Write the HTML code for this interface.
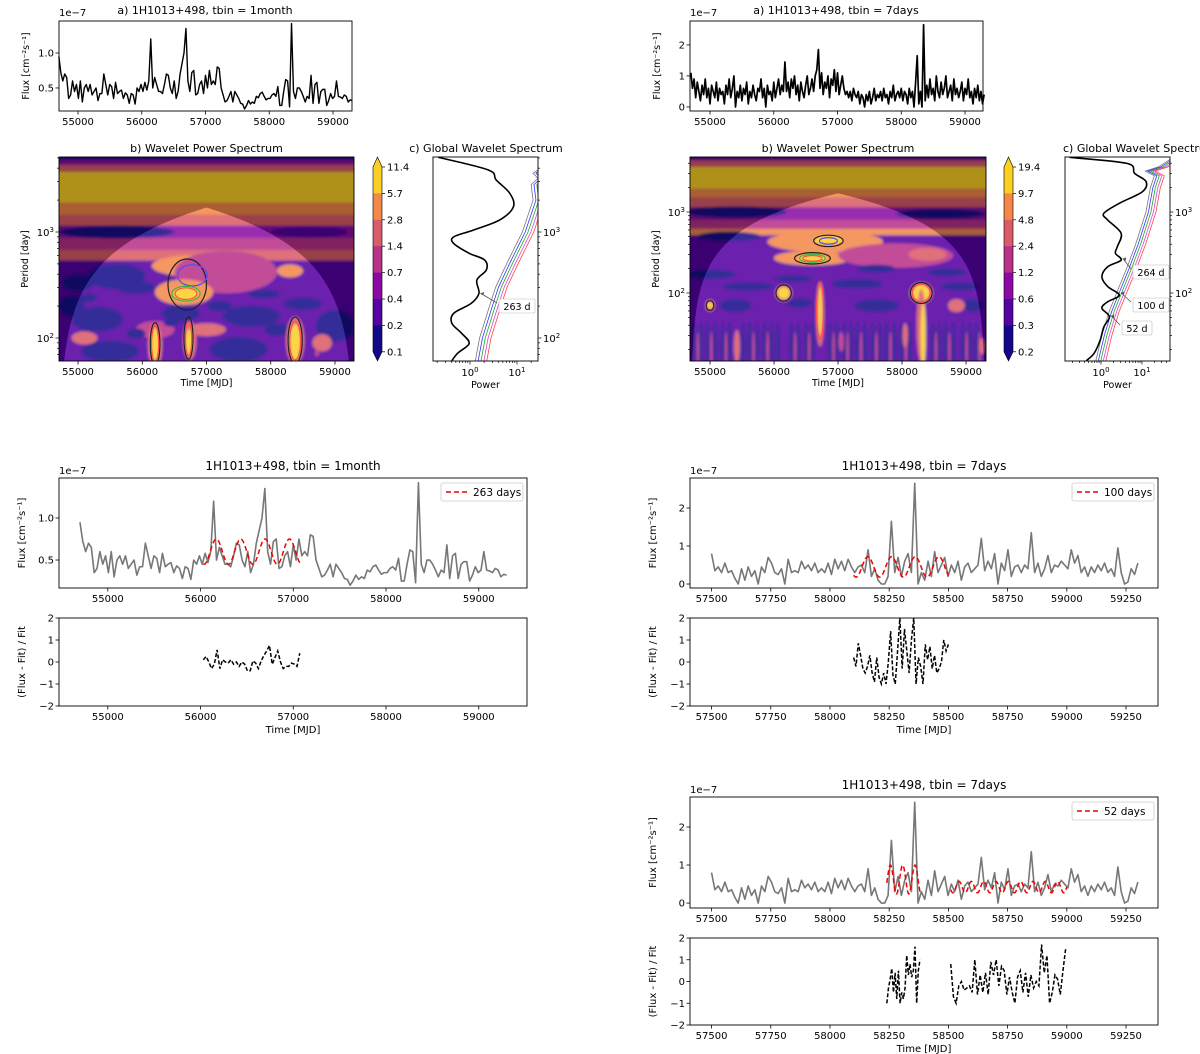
<!DOCTYPE html>
<html><head><meta charset="utf-8">
<style>
html,body{margin:0;padding:0;background:#fff;}
svg{display:block;font-family:"DejaVu Sans","Liberation Sans",sans-serif;}
</style></head>
<body>
<svg id="fig" width="1200" height="1054" viewBox="0 0 1200 1054" xmlns="http://www.w3.org/2000/svg">
<defs>
<filter id="blur" x="-5%" y="-5%" width="110%" height="110%"><feGaussianBlur stdDeviation="1.4"/></filter>
<clipPath id="clipW1"><rect x="59" y="157" width="295" height="204"/></clipPath>
<clipPath id="clipW2"><rect x="690" y="157" width="296" height="204"/></clipPath>
<clipPath id="clipG1"><rect x="433" y="157" width="105" height="204"/></clipPath>
<clipPath id="clipG2"><rect x="1065" y="157" width="105" height="204"/></clipPath>
<clipPath id="clipR2"><rect x="690" y="618" width="468" height="88"/></clipPath>
</defs>
</svg>
<script>
// ---------- DATA ----------
const monthlyRange = [54700, 59300];
const monthlyFlux = [0.95,0.72,0.6,0.7,0.65,0.35,0.4,0.6,0.45,0.55,
0.35,0.6,0.3,0.5,0.55,0.45,0.55,0.4,0.45,0.5,
0.32,0.42,0.42,0.7,0.55,0.4,0.55,0.52,0.35,0.58,
0.42,0.45,0.47,0.35,0.43,0.4,0.28,0.42,0.4,0.27,
0.5,0.45,0.55,0.45,0.58,0.47,0.6,1.2,
0.5,0.65,0.55,0.45,0.45,0.42,0.55,0.7,0.68,0.5,
0.42,0.6,0.35,0.45,0.7,0.85,1.0,1.35,
0.6,0.45,0.72,0.75,0.4,0.42,0.55,0.6,0.42,0.68,
0.5,0.75,0.55,0.6,0.55,0.8,0.78,0.5,0.4,0.3,
0.32,0.38,0.45,0.3,0.45,0.4,0.35,0.28,0.27,0.2,
0.25,0.32,0.27,0.3,0.28,0.38,0.36,0.42,0.44,0.38,
0.33,0.35,0.35,0.4,0.42,0.38,0.52,0.25,0.25,0.45,
0.62,0.6,0.23,1.42,
0.45,0.35,0.5,0.5,0.45,0.38,0.3,0.38,0.35,0.68,
0.28,0.55,0.58,0.28,0.45,0.48,0.48,0.25,0.32,0.42,
0.35,0.38,0.6,0.38,0.37,0.35,0.4,0.38,0.3,0.33,0.32];
const weeklyAllRange = [54700, 59300];
const weeklyAllFlux = [1.1,0.6,0.9,0.3,0.8,0.5,0.2,0.7,0.4,0.9,0.3,0.6,0.1,0.7,0.5,0.3,0.8,0.2,0.6,0.4,
0.5,0.1,0.7,0.4,0.9,0.3,0.6,1.0,0.0,0.5,0.3,0.7,0.2,0.6,0.4,0.8,0.1,0.5,0.3,0.7,
0.4,0.2,0.6,0.5,0.9,0.3,0.6,0.0,0.7,0.4,0.5,0.2,0.8,0.3,0.6,0.9,0.4,0.7,0.5,1.45,
0.5,0.8,0.3,0.9,0.6,1.0,0.4,0.7,0.2,0.8,0.5,0.3,0.7,1.0,0.4,0.6,0.9,0.5,1.0,1.2,1.85,
0.6,1.1,0.4,0.8,0.6,1.0,0.3,0.9,0.7,1.2,0.5,1.1,0.4,0.7,1.0,0.6,0.4,0.5,0.3,
0.5,0.2,0.6,0.4,0.3,0.5,0.1,0.4,0.3,0.0,0.4,0.2,0.5,0.1,0.3,0.6,0.2,0.4,0.3,0.5,
0.2,0.6,0.3,0.4,0.1,0.5,0.3,0.7,0.2,0.4,0.5,0.3,0.6,0.2,0.5,0.4,0.1,0.6,0.3,0.5,0.0,0.8,1.65,
0.1,0.5,0.0,2.65,
0.2,0.7,0.3,0.9,0.4,0.6,0.2,1.0,0.5,0.3,0.8,0.4,0.6,1.0,0.3,0.5,0.7,0.2,0.9,0.4,
0.6,0.3,0.5,0.8,0.2,0.6,0.4,0.9,0.3,0.5,0.1,0.6,0.3,0.7,0.2,0.5,0.1,0.4];
const weeklyRange = [57500, 59300];
const weeklyFlux = [0.8,0.35,0.45,0.3,0.55,0.3,0.35,0.15,0.0,0.4,
0.1,0.45,0.2,0.35,0.0,0.45,0.3,0.7,0.55,0.3,
0.25,0.4,0.0,0.65,0.3,0.35,0.3,0.6,0.4,0.5,
0.35,0.55,0.3,0.4,0.3,0.55,0.25,0.65,0.4,0.6,
0.35,0.65,0.45,0.3,0.45,0.5,0.3,0.9,0.2,0.4,
0.1,0.0,0.0,0.2,1.65,0.3,0.7,0.2,0.6,0.8,0.3,2.65,
0.0,0.3,0.1,0.6,0.2,0.85,0.3,0.5,
0.7,0.2,0.5,0.3,0.6,0.1,0.45,0.55,0.3,0.4,
0.5,1.2,0.35,0.6,0.4,0.8,0.0,0.55,0.35,0.9,
0.2,0.45,0.5,0.3,0.5,0.4,1.35,0.3,0.55,0.2,
0.4,0.75,0.3,0.5,0.45,0.6,0.5,0.4,0.9,0.55,
0.75,0.3,0.45,0.2,0.45,0.3,0.5,0.35,0.55,0.3,
0.4,0.2,0.95,0.3,0.0,0.05,0.4,0.25,0.55];
// fit params: [period, amplitude, mean, peakTime, start, end]
const fit263 = [263, 0.15, 0.60, 56170, 56030, 57080];
const fit100 = [100, 0.27, 0.45, 58160, 58100, 58500];
const fit52a = [52, 0.38, 0.62, 58255, 58240, 58385];
const fit52b = [52, 0.15, 0.42, 58545, 58510, 59000];
const resid263Range = [56030, 57070];
const resid263 = [0.1,0.25,0.0,-0.3,-0.1,0.55,-0.3,0.1,0.0,-0.05,0.1,-0.1,0.0,-0.2,0.0,-0.1,-0.4,-0.4,0.05,-0.05,-0.3,0.05,0.3,0.5,0.75,-0.1,0.2,0.5,0.0,-0.3,-0.2,-0.2,-0.05,-0.1,-0.2,0.4];
const resid100Range = [58100, 58500];
const resid100 = [0.2,-0.2,0.85,0.3,-0.3,-0.5,-0.2,0.3,-0.5,-0.9,0.2,-0.7,-1.0,-0.5,-1.0,0.0,1.4,-0.6,-1.0,0.5,2.0,-0.3,1.5,0.5,-0.5,1.0,2.0,-1.0,0.2,-0.2,-1.0,0.8,0.1,0.7,-0.3,0.3,-0.5,-0.3,0.0,1.0,0.5,0.8];
const resid52aRange = [58240, 58380];
const resid52a = [-1.0,-0.3,0.1,0.6,-0.5,0.4,-0.8,0.5,-1.0,-0.5,-0.8,-0.3,1.2,0.3,0.8,0.2,0.5,1.6,-1.0,0.5,1.0];
const resid52bRange = [58510, 58995];
const resid52b = [0.8,-0.7,-1.0,-0.2,0.0,-0.4,-0.3,-0.2,-0.5,1.0,-0.6,0.3,-0.5,0.4,-0.6,0.9,0.3,1.0,-0.2,0.7,0.5,-0.6,0.2,-0.5,-1.0,0.2,0.5,-0.5,0.4,-0.7,0.3,-0.3,0.0,-0.2,1.7,0.4,1.2,-1.0,-0.5,0.3,0.1,-0.6,0.5,1.5];
// global wavelet spectra: power vs period
const gws1Power = [0.21,2.46,3.6,7.0,8.4,4.3,1.16,0.45,0.45,0.96,2.04,2.24,1.4,1.55,1.06,0.45,0.41,0.66,0.96,0.55,0.41];
const gws1Period = [5070,3846,3100,2320,1730,1300,1040,900,780,630,545,440,352,263,212,171,138,111,89,72,61];
const sig1Period = [61,100,200,300,500,1000,2000,2800,3200,3600,4500];
const sig1Power = [1.3,1.6,2.6,3.5,6,13,22,20,28,22,50];
const gws2Power = [0.17,4.3,6.6,12.6,10.2,2.8,1.17,1.46,3.1,2.5,2.25,3.1,1.46,1.05,1.46,2.8,1.46,1.05,1.6,1.17,0.95,0.68,0.44];
const gws2Period = [4730,3980,3000,2370,1780,1280,963,796,545,373,309,255,211,159,120,94,78,65,51,38,26,18,14.6];
const sig2Period = [14.6,30,60,100,200,400,1000,2000,2800,3200,3600,4500];
const sig2Power = [0.75,1.05,1.6,2.4,4.2,7,12.5,16,20,12,25,50];
const sigLevels = [1, 1.15, 1.32, 1.52, 1.75];
const cbar1Labels = ['11.4','5.7','2.8','1.4','0.7','0.4','0.2','0.1'];
const cbar2Labels = ['19.4','9.7','4.8','2.4','1.2','0.6','0.3','0.2'];
// plasma levels (low -> high)
const P = ['#14088a','#5402a3','#8b0aa5','#b93289','#db5c68','#f48849','#fbd025'];
// wavelet bands: [periodHigh, periodLow, levelIndex]
const bands1 = [[6000,4800,0],[4800,4300,2],[4300,3700,4],[3700,1900,6],[1900,1450,5],[1450,1150,4],[1150,880,2],[880,680,3],[680,540,4]];
const bands2 = [[6000,4600,0],[4600,4300,2],[4300,3600,4],[3600,1950,6],[1950,1500,5],[1500,1150,4],[1150,800,2],[800,620,3],[620,520,5]];
// wavelet blobs: [time, period, halfWidthDays, halfHeightDecades, levelIndex]
const blobs1 = [[55600,1000,900,0.06,0],[58600,1000,600,0.05,1],[56800,480,650,0.1,5],[56850,500,220,0.05,6],[57300,420,800,0.2,3],[56650,270,450,0.12,5],[56680,262,200,0.06,6],[58300,430,200,0.06,5],
[55600,380,450,0.12,0],[55000,330,250,0.08,0],[55900,300,300,0.06,0],[56600,170,300,0.08,0],[57700,160,450,0.1,0],[58500,210,300,0.06,0],[55300,150,400,0.12,0],[59000,130,300,0.15,0],[57500,78,450,0.12,0],[55500,75,450,0.1,0],[54900,200,200,0.1,0],
[56200,120,300,0.08,3],[57000,120,300,0.06,4],[55100,100,200,0.06,4],[58800,90,150,0.08,4],
[55900,110,150,0.05,0],[57200,200,200,0.05,0],[58100,120,200,0.06,0],[56450,140,120,0.04,0],[57900,260,250,0.04,0],[55150,240,150,0.04,0],
[56200,85,110,0.2,4],[56200,88,60,0.15,6],[56740,95,100,0.18,4],[56730,92,50,0.12,6],[58380,95,140,0.22,4],[58380,92,80,0.17,6],[58720,72,30,0.03,3]];
const contours1 = [[56700,320,300,0.24,'#000'],[56780,390,230,0.1,'#33f'],[56680,262,220,0.07,'#2a2'],[56680,262,170,0.055,'#f33'],
[56200,88,75,0.2,'#000'],[56200,88,55,0.17,'#f33'],[56720,100,70,0.2,'#000'],[56720,98,50,0.16,'#f33'],[58380,95,110,0.22,'#000'],[58380,94,85,0.18,'#f33']];
const blobs2 = [[55400,1000,800,0.07,0],[58600,950,700,0.06,0],[56800,430,900,0.13,5],[56850,450,220,0.05,6],[56600,270,600,0.09,5],[56600,268,220,0.05,6],[57900,290,900,0.15,3],[58400,300,300,0.08,4],
[55300,500,500,0.06,0],[55000,170,400,0.06,0],[57600,200,300,0.05,0],[58700,180,300,0.05,0],[56300,150,300,0.04,0],[57300,130,400,0.06,0],[55600,120,400,0.05,0],[58900,120,300,0.05,0],
[55400,70,250,0.08,0],[57600,70,350,0.08,0],[59100,70,150,0.08,0],[56400,75,200,0.06,0],
[56150,100,130,0.1,4],[56150,100,90,0.07,6],[55000,70,70,0.07,4],[55000,70,40,0.04,6],[58300,100,180,0.13,4],[58300,100,130,0.1,6],[58300,40,70,0.45,4],[58330,30,40,0.4,6],[56720,55,60,0.4,4],[56720,60,30,0.3,6],[58850,70,130,0.08,4],[55420,22,45,0.2,4],[59250,22,40,0.1,4],[58050,30,40,0.15,4],[57050,25,40,0.12,3]];
const streaks2 = [54760,54860,54960,55080,55200,55300,55520,55620,55730,55850,55960,56060,56270,56380,56500,56600,56880,56980,57100,57200,57300,57420,57540,57650,57760,57880,57990,58120,58480,58580,58680,58800,58950,59060,59160];
const pinkStreaks2 = [54810,55020,55250,55680,55900,56330,56550,56930,57150,57360,57600,57820,58060,58530,58740,59010,59210];
const contours2 = [[56850,440,230,0.07,'#000'],[56850,440,140,0.04,'#33f'],[56600,268,280,0.07,'#000'],[56600,268,200,0.05,'#2a2'],[56600,268,150,0.035,'#f33'],
[56150,100,120,0.1,'#000'],[58300,100,170,0.13,'#000'],[58300,100,140,0.11,'#f33'],[56720,60,55,0.35,'#f33'],[55000,70,60,0.06,'#000']];
const coiParams1 = [54700, 59300, 0.74];
const coiParams2 = [54700, 59300, 0.74];

// ---------- HELPERS ----------
const NS = 'http://www.w3.org/2000/svg';
const svg = document.getElementById('fig');
function mk(parent, tag, attrs){ const e=document.createElementNS(NS,tag); for(const k in attrs) e.setAttribute(k,attrs[k]); parent.appendChild(e); return e; }
function lin(d0,d1,r0,r1){ return v => r0+(v-d0)/(d1-d0)*(r1-r0); }
function lg(d0,d1,r0,r1){ return v => r0+(Math.log10(v)-d0)/(d1-d0)*(r1-r0); }
function txt(parent, x, y, s, size, anchor, name, rot){
  const t = mk(parent,'text',{x:x,y:y,'font-size':size,'text-anchor':anchor||'middle',fill:'#000'});
  if(rot) t.setAttribute('transform','rotate(-90 '+x+' '+y+')');
  t.textContent = s;
  
  
  return t;
}
function powTxt(parent, x, y, exp, anchor, name){
  const t = mk(parent,'text',{x:x,y:y,'font-size':10,'text-anchor':anchor,fill:'#000'});
  t.textContent='10';
  const s = mk(t,'tspan',{dy:-4,'font-size':7}); s.textContent=exp;
  
  
}
function frame(g, x0,y0,x1,y1,name){
  const r = mk(g,'rect',{x:x0,y:y0,width:x1-x0,height:y1-y0,fill:'none',stroke:'#000','stroke-width':0.9});
  
  
}
function xTicks(g, xs, vals, yBot, name){
  vals.forEach(v=>{ const x=xs(v); mk(g,'line',{x1:x,x2:x,y1:yBot,y2:yBot+3.5,stroke:'#000','stroke-width':0.8}); txt(g,x,yBot+14,String(v),10,'middle',name); });
}
function yTicks(g, ys, vals, labels, xLeft, name){
  vals.forEach((v,i)=>{ const y=ys(v); mk(g,'line',{x1:xLeft-3.5,x2:xLeft,y1:y,y2:y,stroke:'#000','stroke-width':0.8}); txt(g,xLeft-5,y+3.5,labels[i],10,'end',name); });
}
function series(g, xs, ys, range, vals, attrs, name){
  const n=vals.length, step=(range[1]-range[0])/(n-1);
  let d=''; vals.forEach((v,i)=>{ d+=(i?'L':'M')+xs(range[0]+i*step).toFixed(2)+' '+ys(v).toFixed(2); });
  const p = mk(g,'path',Object.assign({d:d,fill:'none'},attrs));
  
  
  return p;
}
function fitCurve(g, xs, ys, f, name){
  let d=''; for(let t=f[4], i=0; t<=f[5]+0.01; t+=2, i++){ const v=f[2]+f[1]*Math.cos(2*Math.PI*(t-f[3])/f[0]); d+=(i?'L':'M')+xs(t).toFixed(2)+' '+ys(v).toFixed(2); }
  const p = mk(g,'path',{d:d,fill:'none',stroke:'#e00','stroke-width':1.5,'stroke-dasharray':'5,3'});
  
  
}
function xyPath(g, xs, ys, xv, yv, attrs, name, smooth){
  const pts = xv.map((v,i)=>[xs(v), ys(yv[i])]);
  let d='M'+pts[0][0].toFixed(2)+' '+pts[0][1].toFixed(2);
  for(let i=1;i<pts.length;i++){
    if(smooth){
      const p0=pts[Math.max(i-2,0)], p1=pts[i-1], p2=pts[i], p3=pts[Math.min(i+1,pts.length-1)];
      const c1=[p1[0]+(p2[0]-p0[0])/6, p1[1]+(p2[1]-p0[1])/6], c2=[p2[0]-(p3[0]-p1[0])/6, p2[1]-(p3[1]-p1[1])/6];
      d+='C'+c1[0].toFixed(2)+' '+c1[1].toFixed(2)+' '+c2[0].toFixed(2)+' '+c2[1].toFixed(2)+' '+p2[0].toFixed(2)+' '+p2[1].toFixed(2);
    } else d+='L'+pts[i][0].toFixed(2)+' '+pts[i][1].toFixed(2);
  }
  const p = mk(g,'path',Object.assign({d:d,fill:'none'},attrs));
  
  
}
function logYTicks(g, ys, lo, hi, xEdge, dir, labels){
  for(let e=Math.floor(lo); e<=Math.ceil(hi); e++){
    for(let m=1;m<10;m++){ const v=m*Math.pow(10,e); const lv=Math.log10(v); if(lv<lo||lv>hi) continue;
      const y=ys(v); const L=m===1?3.5:2; mk(g,'line',{x1:xEdge,x2:xEdge+dir*L,y1:y,y2:y,stroke:'#000','stroke-width':0.7});
      if(m===1 && labels) powTxt(g, dir<0?xEdge-5:xEdge+5, y+4, String(e), dir<0?'end':'start', 'period-tick-label');
    }
  }
}
function logXTicks(g, xs, lo, hi, yEdge){
  for(let e=Math.floor(lo); e<=Math.ceil(hi); e++){
    for(let m=1;m<10;m++){ const v=m*Math.pow(10,e); const lv=Math.log10(v); if(lv<lo||lv>hi) continue;
      const x=xs(v); mk(g,'line',{x1:x,x2:x,y1:yEdge,y2:yEdge+(m===1?3.5:2),stroke:'#000','stroke-width':0.7});
      if(m===1) powTxt(g, x, yEdge+15, String(e), 'middle', 'power-tick-label');
    }
  }
}

// ---------- TOP LIGHT CURVES ----------
function lightCurve(x0,x1,y0,y1,xd,yd,range,vals,yv,yl,title,tx,name,sw){
  const g = mk(svg,'g',{});  
  const xs=lin(xd[0],xd[1],x0,x1), ys=lin(yd[0],yd[1],y1,y0);
  series(g,xs,ys,range,vals,{stroke:'#000','stroke-width':sw,'stroke-linejoin':'round'},'flux-line');
  frame(g,x0,y0,x1,y1,'axes-frame');
  xTicks(g,xs,[55000,56000,57000,58000,59000],y1,'x-tick-label');
  yTicks(g,ys,yv,yl,x0,'y-tick-label');
  txt(g,x0,16,'1e\u22127',10,'start','y-scale-label');
  txt(g,tx,14,title,11,'middle','panel-title');
  txt(g,x0-30,(y0+y1)/2,'Flux [cm\u207b\u00b2s\u207b\u00b9]',9.5,'middle','y-axis-title',true);
}
lightCurve(59,352,21,111,[54702,59298],[0.171,1.457],monthlyRange,monthlyFlux,[0.5,1.0],['0.5','1.0'],'a) 1H1013+498, tbin = 1month',205,'lightcurve-1month',1.4);
lightCurve(690,983,21,111,[54686,59282],[-0.13,2.77],weeklyAllRange,weeklyAllFlux,[0,1,2],['0','1','2'],'a) 1H1013+498, tbin = 7days',836,'lightcurve-7days',1.7);

// ---------- WAVELET PANELS ----------
function wavelet(x0,x1,y0,y1,xd,ylo,yhi,bands,blobs,contours,coi,clip,streaks,pinks,name){
  const g = mk(svg,'g',{});  
  const xs=lin(xd[0],xd[1],x0,x1), ys=lg(ylo,yhi,y1,y0);
  const pxDay=(x1-x0)/(xd[1]-xd[0]), pxDec=(y1-y0)/(yhi-ylo);
  const c = mk(g,'g',{'clip-path':'url(#'+clip+')'});
  const f = mk(c,'g',{filter:'url(#blur)'});
  mk(f,'rect',{x:x0-10,y:y0-10,width:x1-x0+20,height:y1-y0+20,fill:P[1]});
  bands.forEach(b=>{ const r=mk(f,'rect',{x:x0-10,y:ys(b[0]),width:x1-x0+20,height:ys(b[1])-ys(b[0]),fill:P[b[2]]});   });
  if(streaks){ streaks.forEach(t=>{ const e=mk(f,'ellipse',{cx:xs(t),cy:ys(22),rx:32*pxDay,ry:0.3*pxDec,fill:P[0]});   }); }
  if(pinks){ pinks.forEach(t=>{ const e=mk(f,'ellipse',{cx:xs(t),cy:ys(20),rx:18*pxDay,ry:0.22*pxDec,fill:P[3]});   }); }
  blobs.forEach(b=>{ const e=mk(f,'ellipse',{cx:xs(b[0]),cy:ys(b[1]),rx:b[2]*pxDay,ry:b[3]*pxDec,fill:P[b[4]]});   });
  contours.forEach(b=>{ const e=mk(c,'ellipse',{cx:xs(b[0]),cy:ys(b[1]),rx:b[2]*pxDay,ry:b[3]*pxDec,fill:'none',stroke:b[4],'stroke-width':1.2});   });
  // cone of influence
  let d='M'+x0+' '+y1; for(let t=coi[0]; t<=coi[1]; t+=20){ const p=Math.max(coi[2]*Math.min(t-coi[0],coi[1]-t),1); d+='L'+xs(t).toFixed(1)+' '+Math.min(ys(p),y1+5).toFixed(1); } d+='L'+x1+' '+y1+'Z';
  const inside = mk(c,'path',{d:d,fill:'#fff','fill-opacity':0.13});  
  const outside = mk(c,'path',{d:'M'+x0+' '+y0+'H'+x1+'V'+y1+'H'+x0+'Z'+d,fill:'#000','fill-opacity':0.3,'fill-rule':'evenodd'});  
  frame(g,x0,y0,x1,y1,'axes-frame');
  xTicks(g,xs,[55000,56000,57000,58000,59000],y1,'time-tick-label');
  logYTicks(g,ys,ylo,yhi,x0,-1,true);
  txt(g,(x0+x1)/2,152,'b) Wavelet Power Spectrum',11,'middle','panel-title');
  txt(g,(x0+x1)/2,386,'Time [MJD]',9.5,'middle','x-axis-title');
  txt(g,x0-31,(y0+y1)/2,'Period [day]',9.5,'middle','y-axis-title',true);
}
wavelet(59,354,157,361,[54704,59296],1.783,3.7075,bands1,blobs1,contours1,coiParams1,'clipW1',null,null,'wavelet-power-1month');
wavelet(690,986,157,361,[54687,59312],1.1605,3.679,bands2,blobs2,contours2,coiParams2,'clipW2',streaks2,pinkStreaks2,'wavelet-power-7days');

// ---------- COLORBARS ----------
function colorbar(x0,labels,name){
  const g = mk(svg,'g',{});  
  const w=9, top=167, step=26.4;
  for(let i=0;i<7;i++){ const r=mk(g,'rect',{x:x0,y:top+i*step,width:w,height:step+0.5,fill:P[6-i]});   }
  mk(g,'polygon',{points:x0+','+top+' '+(x0+w)+','+top+' '+(x0+w/2)+',157',fill:P[6]});
  mk(g,'polygon',{points:x0+','+(top+7*step)+' '+(x0+w)+','+(top+7*step)+' '+(x0+w/2)+',361',fill:P[0]});
  mk(g,'polygon',{points:x0+','+top+' '+(x0+w/2)+',157 '+(x0+w)+','+top+' '+(x0+w)+','+(top+7*step)+' '+(x0+w/2)+',361 '+x0+','+(top+7*step),fill:'none',stroke:'#000','stroke-width':0.6});
  labels.forEach((l,i)=>{ const y=top+i*step; mk(g,'line',{x1:x0+w,x2:x0+w+3,y1:y,y2:y,stroke:'#000','stroke-width':0.7}); txt(g,x0+w+5,y+3.5,l,10,'start','colorbar-tick-label'); });
}
colorbar(373,cbar1Labels,'colorbar-1month');
colorbar(1004,cbar2Labels,'colorbar-7days');

// ---------- GLOBAL WAVELET SPECTRA ----------
function globalSpec(x0,x1,y0,y1,xlo,xhi,ylo,yhi,pw,pe,sp,spw,clip,ann,name){
  const g = mk(svg,'g',{});  
  const xs=lg(xlo,xhi,x0,x1), ys=lg(ylo,yhi,y1,y0);
  const c=mk(g,'g',{'clip-path':'url(#'+clip+')'});
  const cols=['#777','#33f','#2a2','#d4d','#f44'];
  sigLevels.forEach((m,i)=>{ xyPath(c,xs,ys,spw.map(v=>v*m),sp,{stroke:cols[i],'stroke-width':0.8},'significance-line',false); });
  xyPath(c,xs,ys,pw,pe,{stroke:'#000','stroke-width':1.6,'stroke-linejoin':'round'},'global-power-line',true);
  frame(g,x0,y0,x1,y1,'axes-frame');
  logXTicks(g,xs,xlo,xhi,y1);
  logYTicks(g,ys,ylo,yhi,x1,1,true);
  txt(g,(x0+x1)/2,388,'Power',9.5,'middle','x-axis-title');
  ann.forEach(a=>{
    const px=xs(a[1]), py=ys(a[0]);
    mk(g,'line',{x1:a[2]-2,y1:a[3]-6,x2:px+2,y2:py,stroke:'#555','stroke-width':0.8});
    mk(g,'polygon',{points:(px+1)+','+py+' '+(px+5)+','+(py-1.5)+' '+(px+4.5)+','+(py+2),fill:'#555'});
    const w=a[4].length*6+6;
    const b=mk(g,'rect',{x:a[2],y:a[3]-10,width:w,height:14,fill:'#fff',stroke:'#bbb','stroke-width':0.6,rx:1.5});  
    txt(g,a[2]+w/2,a[3]+1,a[4],9.5,'middle','peak-annotation');
  });
}
globalSpec(433,538,157,361,-0.787,1.447,1.783,3.7075,gws1Power,gws1Period,sig1Period,sig1Power,'clipG1',[[263,1.55,499,309,'263 d']],'global-spectrum-1month');
txt(svg,486,152,'c) Global Wavelet Spectrum',11,'middle','panel-title');
globalSpec(1065,1170,157,361,-0.878,1.683,1.1605,3.679,gws2Power,gws2Period,sig2Period,sig2Power,'clipG2',[[264,3.1,1133,275,'264 d'],[100,2.8,1133,308,'100 d'],[52,1.6,1122,331,'52 d']],'global-spectrum-7days');
txt(svg,1063,152,'c) Global Wavelet Spectrum',11,'start','panel-title');

// ---------- FIT PANELS ----------
function fitPanel(x0,x1,fy0,fy1,ry0,ry1,xd,yd,ticks,range,vals,yv,yl,fits,resids,legend,title,name){
  const g = mk(svg,'g',{});  
  const xs=lin(xd[0],xd[1],x0,x1), ys=lin(yd[0],yd[1],fy1,fy0), rs=lin(-2,2,ry1,ry0);
  series(g,xs,ys,range,vals,{stroke:'#777','stroke-width':1.6,'stroke-linejoin':'round'},'flux-line');
  fits.forEach(f=>fitCurve(g,xs,ys,f,'sinusoid-fit'));
  frame(g,x0,fy0,x1,fy1,'flux-axes-frame');
  xTicks(g,xs,ticks,fy1,'x-tick-label');
  yTicks(g,ys,yv,yl,x0,'y-tick-label');
  txt(g,x0,fy0-4,'1e\u22127',10,'start','y-scale-label');
  txt(g,(x0+x1)/2,fy0-8,title,12,'middle','panel-title');
  txt(g,x0-34,(fy0+fy1)/2,'Flux [cm\u207b\u00b2s\u207b\u00b9]',10,'middle','y-axis-title',true);
  const lx=x1-86, ly=fy0+5;
  const lb=mk(g,'rect',{x:lx,y:ly,width:82,height:18,fill:'#fff',stroke:'#ccc','stroke-width':0.8,rx:2});  
  mk(g,'line',{x1:lx+5,x2:lx+26,y1:ly+9,y2:ly+9,stroke:'#e00','stroke-width':1.5,'stroke-dasharray':'5,3'});
  txt(g,lx+32,ly+13,legend,10.5,'start','legend-entry');
  const rc=mk(g,'g',{}); 
  resids.forEach(r=>series(rc,xs,rs,r[0],r[1],{stroke:'#000','stroke-width':1.5,'stroke-dasharray':'4,2'},'residual-line'));
  frame(g,x0,ry0,x1,ry1,'residual-axes-frame');
  xTicks(g,xs,ticks,ry1,'x-tick-label');
  yTicks(g,rs,[-2,-1,0,1,2],['\u22122','\u22121','0','1','2'],x0,'residual-tick-label');
  txt(g,(x0+x1)/2,ry1+27,'Time [MJD]',10,'middle','x-axis-title');
  txt(g,x0-34,(ry0+ry1)/2,'(Flux - Fit) / Fit',10,'middle','residual-axis-title',true);
  return rc;
}
fitPanel(59,527,478,588,618,706,[54474,59520],[0.167,1.476],[55000,56000,57000,58000,59000],monthlyRange,monthlyFlux,[0.5,1.0],['0.5','1.0'],[fit263],[[resid263Range,resid263]],'263 days','1H1013+498, tbin = 1month','fit-panel-263d');
const rc2 = fitPanel(690,1158,478,588,618,706,[57409,59385],[-0.105,2.79],[57500,57750,58000,58250,58500,58750,59000,59250],weeklyRange,weeklyFlux,[0,1,2],['0','1','2'],[fit100],[[resid100Range,resid100]],'100 days','1H1013+498, tbin = 7days','fit-panel-100d');
rc2.setAttribute('clip-path','url(#clipR2)');
fitPanel(690,1158,797,908,938,1025,[57409,59385],[-0.13,2.79],[57500,57750,58000,58250,58500,58750,59000,59250],weeklyRange,weeklyFlux,[0,1,2],['0','1','2'],[fit52a,fit52b],[[resid52aRange,resid52a],[resid52bRange,resid52b]],'52 days','1H1013+498, tbin = 7days','fit-panel-52d');
</script>
</body></html>
